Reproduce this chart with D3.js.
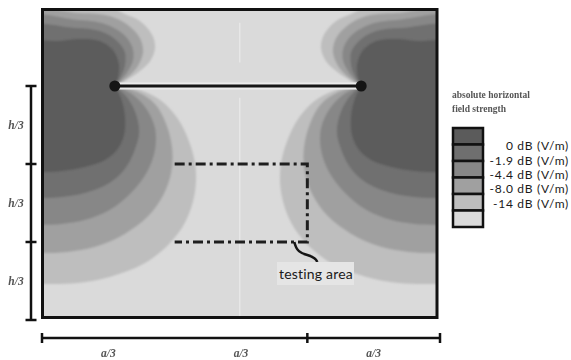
<!DOCTYPE html>
<html>
<head>
<meta charset="utf-8">
<script src="https://cdn.jsdelivr.net/npm/d3@7"></script>
<style>
  html, body { margin: 0; padding: 0; background: #fff; }
  svg { display: block; }
</style>
</head>
<body>
<div id="chart"></div>
<script>
// field levels, darkest first
const levelLabels = ["0 dB (V/m)", "-1.9 dB (V/m)", "-4.4 dB (V/m)", "-8.0 dB (V/m)", "-14 dB (V/m)"]
const legendTitle = ["absolute horizontal", "field strength"]

// antenna ends in a units, antenna sits at y = 0 (h units, downwards)
const antennaEnds = [0.183, 0.802]

// contour outlines around the left end: [dx in % of a, dy in % of h]
// the right end uses the same outline mirrored
const contour0 = [[-27,-17.1],[-13.9,-19.2],[-8.9,-20.1],[-3.8,-19.2],[-0.5,-15.4],[1,-9.4],[0.8,-3.8],[0,0],
  [1.5,5.1],[2.5,12.4],[2.3,20.9],[0.5,27.4],[-2.5,31.6],[-7.6,34.6],[-13.4,36.3],[-18.5,36.8],[-27,36.8]]
const contour2 = [[-27,-23.9],[-10.1,-24.8],[-3.8,-23.5],[0.3,-19.7],[2.5,-14.5],[2.5,-8.5],[1.3,-3.4],[0,0],
  [2.8,4.3],[5.1,11.1],[6.1,19.7],[4.8,28.2],[2.3,35.9],[-1.8,41.9],[-7.6,45.7],[-13.4,47.4],[-18.5,47.9],[-27,47.9]]
const contour4 = [[-27,-27.8],[-8.9,-28.2],[-2.5,-26.5],[1.8,-22.6],[4.3,-17.1],[4.6,-11.1],[3,-5.6],[0,0],
  [4.3,3.4],[7.8,9.4],[10.1,17.9],[10.1,27.4],[8.1,36.8],[4.3,45.3],[-1.3,53],[-7.6,57.3],[-13.4,59],[-18.5,59.4],[-27,59.4]]
const contour8 = [[-27,-30.8],[-8.9,-31.2],[-1.3,-29.9],[3.3,-26.1],[6.3,-20.5],[7.1,-14.5],[5.8,-8.5],[3.3,-3.8],[0,0],
  [5.8,2.6],[10.1,7.7],[12.9,16.2],[14.4,26.5],[14.2,36.8],[12.2,46.6],[8.4,55.6],[2.5,63.2],[-5.1,68.8],[-11.9,70.9],[-18.5,71.4],[-27,71.4]]
const contour14 = [[-27,-37],[-2.5,-35],[2,-31.2],[6.3,-27.8],[9.4,-21.8],[10.1,-16.2],[8.9,-10.7],[6.3,-6.4],[3,-2.6],[0,0],
  [6.3,1.7],[11.4,6],[15.7,13.7],[18.7,23.9],[20.3,35],[20,46.6],[17.7,58.1],[13.4,67.9],[7.1,76.1],[-1.3,81.6],[-9.4,84.2],[-18.5,84.6],[-27,84.6]]
const contours = [contour0, contour2, contour4, contour8, contour14]

// testing area, in a and h units
const testingX = [1/3, 2/3]
const testingY = [1/3, 2/3]

// dimension lines
const hTicks = [0, 1/3, 2/3, 1]
const hLabels = ["h/3", "h/3", "h/3"]
const aTicks = [0, 2/3, 1]
const aLabels = ["a/3", "a/3", "a/3"]

const width = 571
const height = 360
const frame = {left: 42.5, right: 437, top: 9.5, bottom: 317.5}

const x = d3.scaleLinear().domain([0, 1]).range([42, 440])
const y = d3.scaleLinear().domain([0, 1]).range([86, 320])
const shade = d3.scaleOrdinal()
  .domain(d3.range(6))
  .range(["#5b5b5b", "#6f6f6f", "#878787", "#a0a0a0", "#bebebe", "#dadada"])

const svg = d3.select("#chart")
  .append("svg")
    .attr("width", width)
    .attr("height", height)

const defs = svg.append("defs")
defs.append("clipPath")
    .attr("id", "clip")
  .append("rect")
    .attr("x", frame.left)
    .attr("y", frame.top)
    .attr("width", frame.right - frame.left)
    .attr("height", frame.bottom - frame.top)
defs.append("filter").attr("id", "soft")
  .append("feGaussianBlur").attr("stdDeviation", 0.8)
defs.append("filter").attr("id", "fuzzy")
  .append("feGaussianBlur").attr("stdDeviation", 0.55)

// keep the sharp pinch at the antenna end
const pinch = pts => pts.flatMap(p => (p[0] === 0 && p[1] === 0) ? [p, p] : [p])

const outline = (end, side) => d3.line()
  .x(d => x(end + side * d[0] / 100))
  .y(d => y(d[1] / 100))
  .curve(d3.curveCatmullRomClosed.alpha(0.5))

// field map
const plot = svg.append("g").attr("clip-path", "url(#clip)")
plot.append("rect")
    .attr("x", frame.left)
    .attr("y", frame.top)
    .attr("width", frame.right - frame.left)
    .attr("height", frame.bottom - frame.top)
    .attr("fill", shade(5))

const field = plot.append("g").attr("filter", "url(#soft)")
const sides = [[antennaEnds[0], 1], [antennaEnds[1], -1]]
d3.range(contours.length - 1, -1, -1).forEach(i => {
  sides.forEach(([end, side]) => {
    field.append("path")
        .attr("d", outline(end, side)(pinch(contours[i])))
        .attr("fill", shade(i))
  })
})

// faint centre line of the mesh
plot.append("g")
    .attr("stroke", "#f0f0f0")
    .attr("stroke-width", 1.5)
    .attr("opacity", 0.6)
  .selectAll("line")
  .data([[-0.27, -0.1], [0.05, 1.05]])
  .join("line")
    .attr("x1", (frame.left + frame.right) / 2)
    .attr("x2", (frame.left + frame.right) / 2)
    .attr("y1", d => y(d[0]))
    .attr("y2", d => y(d[1]))

// antenna
plot.append("line")
    .attr("x1", x(antennaEnds[0])).attr("x2", x(antennaEnds[1]))
    .attr("y1", y(0)).attr("y2", y(0))
    .attr("stroke", "#ebebeb")
    .attr("stroke-width", 7)
plot.append("line")
    .attr("x1", x(antennaEnds[0])).attr("x2", x(antennaEnds[1]))
    .attr("y1", y(0)).attr("y2", y(0))
    .attr("stroke", "#151515")
    .attr("stroke-width", 3)
plot.selectAll("circle")
  .data(antennaEnds)
  .join("circle")
    .attr("cx", d => x(d))
    .attr("cy", y(0))
    .attr("r", 5.5)
    .attr("fill", "#151515")

// testing area, open on the left
const testPath = d3.path()
testPath.moveTo(x(testingX[0]), y(testingY[0]))
testPath.lineTo(x(testingX[1]), y(testingY[0]))
testPath.lineTo(x(testingX[1]), y(testingY[1]))
testPath.lineTo(x(testingX[0]), y(testingY[1]))
svg.append("path")
    .attr("d", testPath.toString())
    .attr("fill", "none")
    .attr("stroke", "#1e1e1e")
    .attr("stroke-width", 3)
    .attr("stroke-dasharray", "10,4,3,4")

// leader and label
const cx = x(testingX[1]) - 13
const cy = y(testingY[1])
svg.append("path")
    .attr("d", `M${cx},${cy} C${cx + 2},${cy + 9} ${cx + 6},${cy + 11} ${cx + 13},${cy + 13} S${cx + 22},${cy + 17} ${cx + 23},${cy + 20}`)
    .attr("fill", "none")
    .attr("stroke", "#151515")
    .attr("stroke-width", 2.5)
svg.append("rect")
    .attr("x", 277)
    .attr("y", 262)
    .attr("width", 77)
    .attr("height", 23)
    .attr("fill", "#e5e5e5")
svg.append("text")
    .attr("x", 279)
    .attr("y", 279)
    .attr("font-family", "Lato, 'Liberation Sans', sans-serif")
    .attr("font-size", 14)
    .attr("letter-spacing", 0.2)
    .attr("fill", "#1a1a1a")
    .text("testing area")

// frame
svg.append("rect")
    .attr("x", frame.left)
    .attr("y", frame.top)
    .attr("width", frame.right - frame.left)
    .attr("height", frame.bottom - frame.top)
    .attr("fill", "none")
    .attr("stroke", "#111")
    .attr("stroke-width", 3)

// vertical dimension (h)
const dimV = svg.append("g").attr("stroke", "#111").attr("stroke-width", 2.5)
dimV.append("line")
    .attr("x1", 31).attr("x2", 31)
    .attr("y1", y(0)).attr("y2", y(1))
dimV.selectAll(".tick")
  .data(hTicks)
  .join("line")
    .attr("class", "tick")
    .attr("x1", 25.5).attr("x2", 36.5)
    .attr("y1", d => y(d)).attr("y2", d => y(d))
svg.append("g")
    .attr("filter", "url(#fuzzy)")
  .selectAll("text")
  .data(hLabels)
  .join("text")
    .attr("x", 16)
    .attr("y", (d, i) => y((hTicks[i] + hTicks[i + 1]) / 2))
    .attr("dy", "0.35em")
    .attr("text-anchor", "middle")
    .attr("font-family", "'Liberation Serif', serif")
    .attr("font-style", "italic")
    .attr("font-weight", "bold")
    .attr("font-size", 11.5)
    .attr("fill", "#555")
    .text(d => d)

// horizontal dimension (a)
const dimY = 338
const dimH = svg.append("g").attr("stroke", "#111").attr("stroke-width", 2.5)
dimH.append("line")
    .attr("x1", x(0)).attr("x2", x(1))
    .attr("y1", dimY).attr("y2", dimY)
dimH.selectAll(".tick")
  .data(aTicks)
  .join("line")
    .attr("class", "tick")
    .attr("x1", d => x(d)).attr("x2", d => x(d))
    .attr("y1", dimY - 5).attr("y2", dimY + 5)
svg.append("g")
    .attr("filter", "url(#fuzzy)")
  .selectAll("text")
  .data(aLabels)
  .join("text")
    .attr("x", (d, i) => x((i + 0.5) / 3))
    .attr("y", 353)
    .attr("dy", "0.35em")
    .attr("text-anchor", "middle")
    .attr("font-family", "'Liberation Serif', serif")
    .attr("font-style", "italic")
    .attr("font-weight", "bold")
    .attr("font-size", 11.5)
    .attr("fill", "#555")
    .text(d => d)

// legend
const legend = svg.append("g")
legend.append("g")
    .attr("filter", "url(#fuzzy)")
  .selectAll("text")
  .data(legendTitle)
  .join("text")
    .attr("x", 452)
    .attr("y", (d, i) => 98 + i * 14)
    .attr("font-family", "'Liberation Serif', serif")
    .attr("font-weight", "bold")
    .attr("font-size", 9.5)
    .attr("fill", "#555")
    .text(d => d)

const boxY = d3.scaleBand().domain(d3.range(6)).range([128, 227])
legend.selectAll("rect")
  .data(d3.range(6))
  .join("rect")
    .attr("x", 453)
    .attr("y", d => boxY(d))
    .attr("width", 30)
    .attr("height", boxY.bandwidth())
    .attr("fill", d => shade(d))
    .attr("stroke", "#111")
    .attr("stroke-width", 2.5)

legend.selectAll(".lab")
  .data(levelLabels)
  .join("text")
    .attr("class", "lab")
    .attr("x", 569)
    .attr("y", (d, i) => 146 + i * 14.4)
    .attr("dy", "0.35em")
    .attr("text-anchor", "end")
    .attr("font-family", "Lato, 'Liberation Sans', sans-serif")
    .attr("font-size", 12)
    .attr("letter-spacing", 0.7)
    .attr("fill", "#1a1a1a")
    .text(d => d)
</script>
</body>
</html>
